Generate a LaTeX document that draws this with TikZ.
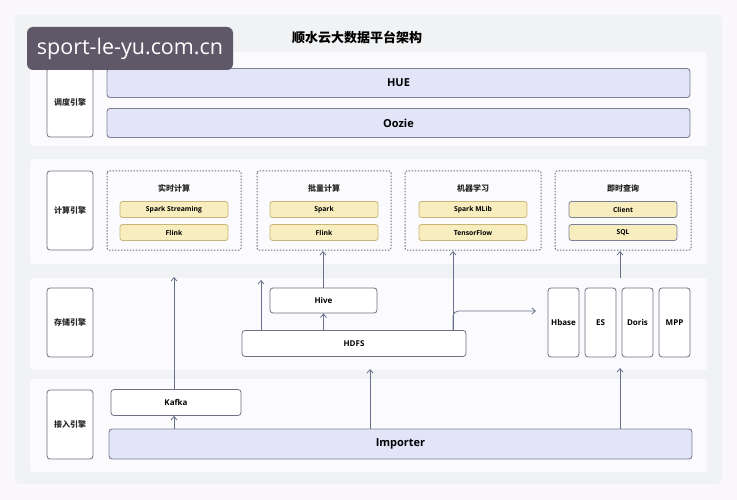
\documentclass[tikz,border=0pt]{standalone}
\usepackage{fontspec}
\setmainfont{Open Sans}
\newfontfamily\cjk{Noto Sans CJK SC}
\usetikzlibrary{arrows.meta}
\definecolor{bgc}{HTML}{FAF8FB}
\definecolor{panelc}{HTML}{F1F2F4}
\definecolor{bandc}{HTML}{FBFAFD}
\definecolor{edgec}{HTML}{6F7080}
\definecolor{bluef}{HTML}{E3E4F8}
\definecolor{bluee}{HTML}{7C8198}
\definecolor{yelf}{HTML}{F8EDBF}
\definecolor{yele}{HTML}{C9B57A}
\definecolor{arrc}{HTML}{68708C}
\definecolor{wmc}{HTML}{5E5868}
\tikzset{
  box/.style={draw=edgec, line width=0.8pt, fill=white, rounded corners=3pt, inner sep=0pt},
  lbl/.style={box, font=\cjk\bfseries\fontsize{8}{9}\selectfont, text=black!85},
  bluebox/.style={draw=bluee, line width=0.9pt, fill=bluef, rounded corners=3pt, inner sep=0pt, font=\bfseries\fontsize{11}{12}\selectfont},
  yelbox/.style={draw=yele, line width=0.8pt, fill=yelf, rounded corners=2.5pt, inner sep=0pt, font=\bfseries\fontsize{6.8}{8}\selectfont},
  yelboxb/.style={yelbox, draw=bluee},
  grp/.style={draw=edgec, line width=1pt, dash pattern=on 1.5pt off 1.5pt, rounded corners=2pt},
  gtitle/.style={font=\cjk\bfseries\fontsize{8}{9}\selectfont, text=black!85},
  stor/.style={box, font=\bfseries\fontsize{8}{9}\selectfont},
  arr/.style={draw=arrc, line width=0.8pt, -{Straight Barb[length=3.5pt,width=6pt]}},
}
\begin{document}
\begin{tikzpicture}[x=1pt,y=-1pt]
\useasboundingbox (0,0) rectangle (737,500);
\fill[bgc] (0,0) rectangle (737,500);
\fill[panelc, rounded corners=6pt] (15,15) rectangle (722,484);
% bands
\fill[bandc, rounded corners=3pt] (30,52) rectangle (707,146);
\fill[bandc, rounded corners=3pt] (30,159) rectangle (707,264);
\fill[bandc, rounded corners=3pt] (30,278) rectangle (707,370);
\fill[bandc, rounded corners=3pt] (30,379) rectangle (707,472);
% title
\node[font=\cjk\bfseries\fontsize{13}{15}\selectfont] (title) at (357,37) {顺水云大数据平台架构};
% layer labels
\node[lbl, minimum width=46pt, minimum height=69pt] (l1) at (70,102.5) {调度引擎};
\node[lbl, minimum width=46pt, minimum height=79pt] (l2) at (70,210.5) {计算引擎};
\node[lbl, minimum width=46pt, minimum height=69pt] (l3) at (70,322.5) {存储引擎};
\node[lbl, minimum width=46pt, minimum height=69pt] (l4) at (70,424.5) {接入引擎};
% scheduling
\node[bluebox, minimum width=583pt, minimum height=29pt] (hue) at (398.5,83) {HUE};
\node[bluebox, minimum width=583pt, minimum height=29pt] (oozie) at (398.5,123) {Oozie};
% compute groups
\draw[grp] (107,171) rectangle (241,250);
\node[gtitle] (g1t) at (174,188) {实时计算};
\node[yelbox, minimum width=108pt, minimum height=16pt] (ss) at (174,209.5) {Spark Streaming};
\node[yelbox, minimum width=108pt, minimum height=16pt] (fl1) at (174,232.5) {Flink};
\draw[grp] (257,171) rectangle (391,250);
\node[gtitle] (g2t) at (324,188) {批量计算};
\node[yelbox, minimum width=108pt, minimum height=16pt] (sp) at (324,209.5) {Spark};
\node[yelbox, minimum width=108pt, minimum height=16pt] (fl2) at (324,232.5) {Flink};
\coordinate (g2b) at (323,251);
\draw[grp] (405,171) rectangle (541,250);
\node[gtitle] (g3t) at (473,188) {机器学习};
\node[yelbox, minimum width=108pt, minimum height=16pt] (ml) at (473,209.5) {Spark MLib};
\node[yelbox, minimum width=108pt, minimum height=16pt] (tf) at (473,232.5) {TensorFlow};
\coordinate (g3b) at (453,251);
\draw[grp] (555,171) rectangle (691,250);
\node[gtitle] (g4t) at (623,188) {即时查询};
\node[yelboxb, minimum width=108pt, minimum height=16pt] (cl) at (623,209.5) {Client};
\node[yelboxb, minimum width=108pt, minimum height=16pt] (sql) at (623,232.5) {SQL};
\coordinate (g4b) at (620,251);
% storage
\node[stor, minimum width=107pt, minimum height=25pt] (hive) at (323.5,300.5) {Hive};
\node[stor, minimum width=224pt, minimum height=26pt] (hdfs) at (354,343.5) {HDFS};
\node[stor, minimum width=31pt, minimum height=69pt] (hbase) at (563.5,322.5) {Hbase};
\node[stor, minimum width=31pt, minimum height=69pt] (es) at (600.5,322.5) {ES};
\node[stor, minimum width=31pt, minimum height=69pt] (doris) at (637.5,322.5) {Doris};
\node[stor, minimum width=31pt, minimum height=69pt] (mpp) at (674.5,322.5) {MPP};
% access
\node[stor, minimum width=130pt, minimum height=26pt] (kafka) at (176,402.5) {Kafka};
\node[bluebox, minimum width=583pt, minimum height=30pt] (imp) at (400.5,444) {Importer};
% arrows
\coordinate (kafkaUp) at (174,277);
\coordinate (hdfsUp) at (261,280);
\coordinate (hdfsTarget) at (370,369);
\coordinate (stTarget) at (620,368);
\coordinate (g4src) at (620,278);
\coordinate (branchEnd) at (536,311);
\draw[arr] (kafka.north -| kafkaUp) -- (kafkaUp);
\draw[arr] (imp.north -| kafkaUp) -- (kafka.south -| kafkaUp);
\draw[arr] (hdfs.north -| hive) -- (hive.south);
\draw[arr] (hive.north -| g2b) -- (g2b);
\draw[arr] (hdfs.north -| hdfsUp) -- (hdfsUp);
\draw[arr] (hdfs.north -| g3b) -- (g3b);
\draw[arr, rounded corners=5pt] (hdfs.north -| g3b) -- ++(0,-19) -- (branchEnd);
\draw[arr] (imp.north -| hdfsTarget) -- (hdfsTarget);
\draw[arr] (imp.north -| stTarget) -- (stTarget);
\draw[arr] (g4src) -- (g4b);
% watermark
\node[fill=wmc, rounded corners=6pt, minimum width=206pt, minimum height=43pt, inner sep=0pt, text=white, font=\fontsize{21.5}{24}\selectfont] (wm) at (130,48.5) {sport-le-yu.com.cn};
\end{tikzpicture}
\end{document}
